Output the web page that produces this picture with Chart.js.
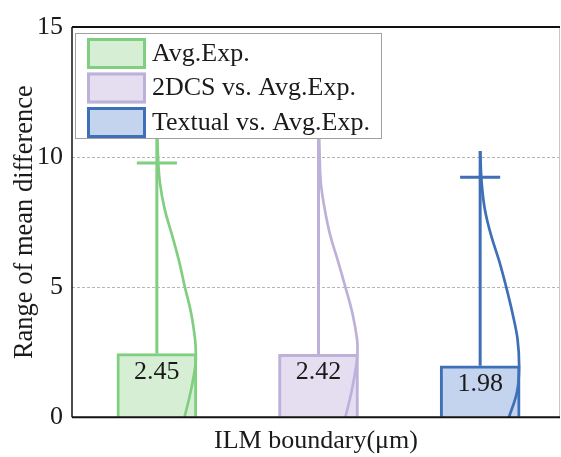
<!DOCTYPE html>
<html><head><meta charset="utf-8">
<script src="https://cdn.jsdelivr.net/npm/chart.js@4.4.0/dist/chart.umd.min.js"></script>
<style>html,body{margin:0;padding:0;background:#fff;}#wrap{width:561px;height:457px;position:relative;}</style>
</head><body><div id="wrap"><canvas id="c"></canvas></div>
<script>
// ---- data ----
const categories = ['Avg.Exp.', '2DCS vs. Avg.Exp.', 'Textual vs. Avg.Exp.'];
const barValues = [2.45, 2.42, 1.98];
const whiskerTop = [11.5, 12.0, 10.23];
const capValues = [9.77, 11.3, 9.23];
const violinLevelsAvg = [11.5, 10, 9, 8, 7, 6, 5, 4, 3, 2.5, 2, 1, 0];
const violinDensityAvg = [0, 0.03, 0.08, 0.2, 0.39, 0.57, 0.72, 0.88, 0.98, 1, 0.99, 0.87, 0.71];
const violinLevels2DCS = [12, 10, 9, 8, 7, 6, 5, 4, 3, 2.5, 2, 1, 0];
const violinDensity2DCS = [0, 0.03, 0.06, 0.16, 0.3, 0.5, 0.69, 0.87, 0.99, 1, 0.97, 0.85, 0.69];
const violinLevelsText = [10.23, 9, 8, 7, 6, 5, 4, 3, 2, 1, 0];
const violinDensityText = [0, 0.04, 0.12, 0.28, 0.49, 0.67, 0.83, 0.96, 1, 0.95, 0.74];
const yTicks = [0, 5, 10, 15];

// ---- style ----
const edgeColors = ['#80cf80', '#bdb1d9', '#3f6fb6'];
const fillColors = ['#d6efd4', '#e4def0', '#c4d4ee'];
const FONT = "'Liberation Serif', 'Times New Roman', serif";
const CAP_HALF = 0.124;
const VIOLIN_HALF = 0.241;
const violinLevels = [violinLevelsAvg, violinLevels2DCS, violinLevelsText];
const violinDensity = [violinDensityAvg, violinDensity2DCS, violinDensityText];

const datasets = [];
categories.forEach((name, i) => {
  datasets.push({
    type: 'line', label: name + ' whisker',
    data: [{x: i, y: barValues[i]}, {x: i, y: whiskerTop[i]}, {x: i, y: null},
           {x: i - CAP_HALF, y: capValues[i]}, {x: i + CAP_HALF, y: capValues[i]}],
    borderColor: edgeColors[i], borderWidth: 3, pointRadius: 0, tension: 0,
    spanGaps: false, order: 1, clip: false
  });
  datasets.push({
    type: 'line', label: name + ' violin',
    data: violinLevels[i].map((v, k) => ({x: i + violinDensity[i][k] * VIOLIN_HALF, y: v})),
    borderColor: edgeColors[i], borderWidth: 2.7, pointRadius: 0, tension: 0.4,
    order: 1, clip: false
  });
  datasets.push({
    type: 'bar', label: name, data: [{x: i, y: barValues[i]}],
    backgroundColor: fillColors[i], borderColor: edgeColors[i], borderWidth: 3,
    barThickness: 80, grouped: false, order: 2, isBar: true
  });
});

const framePlugin = {
  id: 'frame',
  afterDraw(chart) {
    const ctx = chart.ctx, a = chart.chartArea;
    ctx.save();
    // bar value labels
    ctx.fillStyle = '#1a1a1a';
    ctx.font = '26px ' + FONT;
    ctx.textAlign = 'center';
    ctx.textBaseline = 'alphabetic';
    chart.data.datasets.forEach((ds, di) => {
      if (!ds.isBar) return;
      const el = chart.getDatasetMeta(di).data[0];
      ctx.fillText(ds.data[0].y.toFixed(2), el.x, el.y + 25);
    });
    // frame
    ctx.strokeStyle = '#c8c8c8'; ctx.lineWidth = 1;
    ctx.beginPath(); ctx.moveTo(a.right - 0.5, a.top); ctx.lineTo(a.right - 0.5, a.bottom); ctx.stroke();
    ctx.strokeStyle = '#111'; ctx.lineWidth = 2;
    ctx.beginPath(); ctx.moveTo(a.left, a.top); ctx.lineTo(a.right, a.top); ctx.stroke();
    ctx.beginPath(); ctx.moveTo(a.left, a.bottom); ctx.lineTo(a.right, a.bottom); ctx.stroke();
    ctx.lineWidth = 1.5;
    ctx.beginPath(); ctx.moveTo(a.left, a.top); ctx.lineTo(a.left, a.bottom); ctx.stroke();
    // legend
    const lx = a.left + 3, ly = a.top + 6, lw = 307, lh = 106;
    ctx.fillStyle = '#fff';
    ctx.fillRect(lx, ly, lw, lh);
    ctx.strokeStyle = '#a0a0a0'; ctx.lineWidth = 1;
    ctx.strokeRect(lx + 0.5, ly + 0.5, lw - 1, lh - 1);
    ctx.textAlign = 'left'; ctx.textBaseline = 'middle';
    ctx.font = '26px ' + FONT;
    categories.forEach((name, i) => {
      const top = ly + 5 + i * 34.5;
      ctx.fillStyle = fillColors[i];
      ctx.fillRect(lx + 12, top, 59, 31);
      ctx.strokeStyle = edgeColors[i]; ctx.lineWidth = 3;
      ctx.strokeRect(lx + 13.5, top + 1.5, 56, 28);
      ctx.fillStyle = '#1a1a1a';
      ctx.fillText(name, lx + 77, top + 16);
    });
    ctx.restore();
  }
};

new Chart(document.getElementById('c'), {
  type: 'bar',
  data: { datasets },
  options: {
    responsive: true, maintainAspectRatio: false, animation: false,
    layout: { padding: { top: 27, right: 1, bottom: 0, left: 0 } },
    plugins: { legend: { display: false }, tooltip: { enabled: false } },
    scales: {
      x: {
        type: 'linear', min: -0.525, max: 2.494, offset: false,
        ticks: { display: false },
        grid: { display: false, drawTicks: false, offset: false },
        border: { display: false },
        title: { display: true, text: 'ILM boundary(μm)', color: '#1a1a1a',
                 font: { family: FONT, size: 26 }, padding: { top: 8.5, bottom: 0 } }
      },
      y: {
        min: 0, max: 15,
        afterFit(scale) { scale.width = 72; },
        afterBuildTicks(scale) { scale.ticks = yTicks.map(v => ({ value: v })); },
        ticks: { color: '#1a1a1a', font: { family: FONT, size: 26 }, padding: 9 },
        grid: {
          drawTicks: false, lineWidth: 1,
          color: ctx => (ctx.tick && (ctx.tick.value === 5 || ctx.tick.value === 10)) ? '#b4b4b4' : 'rgba(0,0,0,0)'
        },
        border: { display: false, dash: [3, 2] },
        title: { display: true, text: 'Range of mean difference', color: '#1a1a1a',
                 font: { family: FONT, size: 26.5 }, padding: { top: 9, bottom: 0 } }
      }
    }
  },
  plugins: [framePlugin]
});
</script>
</body></html>
